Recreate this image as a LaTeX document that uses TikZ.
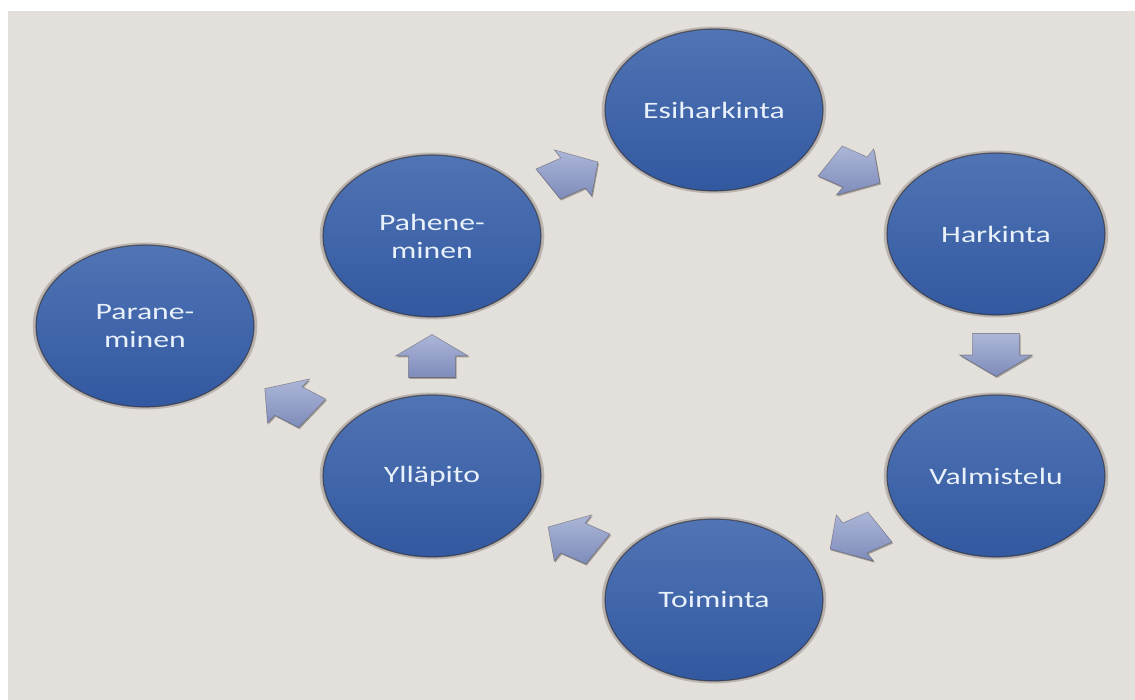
\documentclass[tikz,border=0pt]{standalone}
\usepackage{fontspec}
\newfontfamily\lblfont{Carlito}[FakeStretch=1.35]
\usetikzlibrary{shapes.geometric,shadows,calc}
\definecolor{bgc}{RGB}{227,223,219}
\definecolor{elltop}{RGB}{80,116,180}
\definecolor{ellbot}{RGB}{50,88,160}
\definecolor{arrtop}{RGB}{172,182,216}
\definecolor{arrbot}{RGB}{126,140,186}
\definecolor{txtc}{RGB}{232,240,250}
\definecolor{halo}{RGB}{45,35,30}
\tikzset{
  stage/.style={ellipse, minimum width=218pt, minimum height=162pt, inner sep=0pt,
    top color=elltop, bottom color=ellbot, draw=halo, draw opacity=.55, line width=1.2pt,
    text=txtc, font=\lblfont\fontsize{23.5}{28}\selectfont, align=center,
    general shadow={shadow scale=1.03, fill=halo, opacity=.22}},
  arrowbody/.style={top color=arrtop, bottom color=arrbot, draw=halo, draw opacity=.35,
    line width=.6pt, drop shadow={opacity=.35, shadow xshift=1pt, shadow yshift=-1.5pt, fill=halo}},
  pics/blockarrow/.style={code={
    \path[arrowbody] (-21.5,-17.5) -- (0,-17.5) -- (0,-27) -- (21.5,0) -- (0,27) -- (0,17.5) -- (-21.5,17.5) -- cycle;}}
}
\begin{document}
\begin{tikzpicture}[x=1pt,y=1pt]
\useasboundingbox (0,0) rectangle (1135,700);
\fill[white] (0,0) rectangle (1135,700);
\fill[bgc] (8,0) rectangle (1135,689);
\node[stage] (esi) at (714,590) {Esiharkinta};
\node[stage] (har) at (996,466) {Harkinta};
\node[stage] (val) at (996,224) {Valmistelu};
\node[stage] (toi) at (714,100) {Toiminta};
\node[stage] (yll) at (432,224) {Ylläpito};
\node[stage] (pah) at (432,464) {Pahene-\\minen};
\node[stage] (par) at (145,374) {Parane-\\minen};
\pic[xscale=1.35, rotate=30.9] (a1) at ($(pah)!.5!(esi)$) {blockarrow};
\pic[xscale=1.35, rotate=-30.9] (a2) at ($(esi)!.5!(har)$) {blockarrow};
\pic[xscale=1.35, rotate=-90] (a3) at ($(har)!.5!(val)$) {blockarrow};
\pic[xscale=1.35, rotate=210.9] (a4) at ($(val)!.5!(toi)$) {blockarrow};
\pic[xscale=1.35, rotate=149.1] (a5) at ($(toi)!.5!(yll)$) {blockarrow};
\pic[xscale=1.35, rotate=90] (a6) at ($(yll)!.5!(pah)$) {blockarrow};
\pic[xscale=1.35, rotate=144.8] (a7) at ($(yll)!.5!(par)$) {blockarrow};
\end{tikzpicture}
\end{document}
